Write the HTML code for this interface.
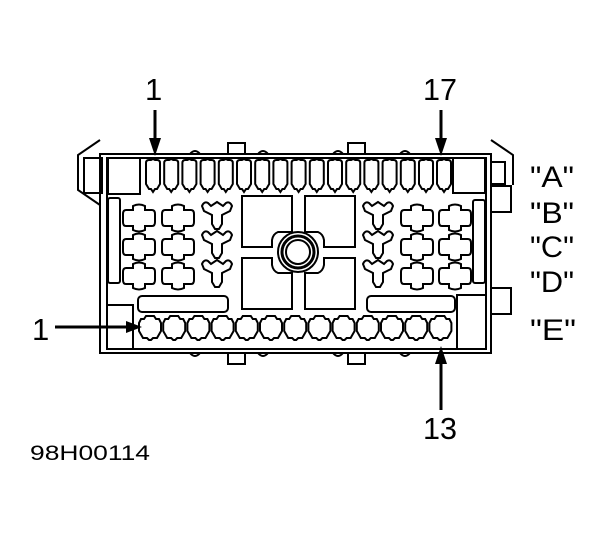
<!DOCTYPE html>
<html><head><style>
html,body{margin:0;padding:0;background:#fff;}
svg{display:block;}
text{font-family:"Liberation Sans",Arial,sans-serif;fill:#000;}
</style></head><body>
<svg width="614" height="534" viewBox="0 0 614 534" xmlns="http://www.w3.org/2000/svg">
<defs>
<path id="clo" d="M-6,-12 q6,-3 12,0 v4 h7 q3,0 3,4 v8 q0,4 -3,4 h-7 v4 q-6,3 -12,0 v-4 h-7 q-3,0 -3,-4 v-8 q0,-4 3,-4 h7 z" fill="none" stroke="#000" stroke-width="2"/>
<path id="tee" d="M-15,-9 q2,-5 6,-3 l3,3 l6,-4 l6,4 l3,-3 q4,-2 6,3 l-2,5 l-8,4 v9 l-3,5 h-4 l-3,-5 v-9 l-8,-4 z" fill="none" stroke="#000" stroke-width="2"/>
<path id="ca" d="M-7,-13 q0,-3 3,-3 h2 l2,-1 l2,1 h2 q3,0 3,3 v21 l-3,5 h-2 l-2,3 l-2,-3 h-2 l-3,-5 z" fill="none" stroke="#000" stroke-width="2"/>
<path id="ce" d="M-4,-12 h8 l2,3 h3 l2,4 v8 l-4,7 h-4 l-2,2 h-2 l-2,-2 h-4 l-4,-7 v-8 l2,-4 h3 z" fill="none" stroke="#000" stroke-width="2"/>
</defs>
<g fill="none" stroke="#000" stroke-width="2">
<path d="M228,154 v-11 h17 v11"/><path d="M348,154 v-11 h17 v11"/>
<path d="M190,154 q5,-6 10,0"/><path d="M258,154 q5,-6 10,0"/><path d="M333,154 q5,-6 10,0"/><path d="M400,154 q5,-6 10,0"/>
<path d="M228,353 v11 h17 v-11"/><path d="M348,353 v11 h17 v-11"/>
<path d="M190,353 q5,6 10,0"/><path d="M258,353 q5,6 10,0"/><path d="M333,353 q5,6 10,0"/><path d="M400,353 q5,6 10,0"/>
<rect x="100" y="154" width="391" height="199"/>
<path d="M107,158 H486 V349 H107 Z"/>
<path d="M100,140 L78,155 V190 L100,205"/>
<path d="M84,158 h18 v35 h-18 z"/>
<path d="M491,140 L513,155 V185"/>
<path d="M491,162 h14 v22 h-14"/>
<path d="M491,186 h20 v26 h-20"/>
<path d="M491,288 h20 v26 h-20"/>
<rect x="108" y="158" width="32" height="36"/>
<rect x="453" y="158" width="32" height="35"/>
<rect x="108" y="198" width="12" height="85" rx="2"/>
<rect x="473" y="200" width="12" height="83" rx="2"/>
<path d="M108,305 h25 v44"/>
<path d="M485,295 h-28 v54"/>
<rect x="138" y="296" width="90" height="16" rx="4"/>
<rect x="367" y="296" width="88" height="16" rx="4"/>
<path d="M242,196 h50 v36 h-14 q-5,2 -6,8 v7 h-30 z"/>
<path d="M305,196 h50 v51 h-31 v-7 q-1,-6 -6,-8 h-13 z"/>
<path d="M242,309 h50 v-36 h-14 q-5,-2 -6,-8 v-7 h-30 z"/>
<path d="M305,309 h50 v-51 h-31 v7 q-1,6 -6,8 h-13 z"/>
<circle cx="298" cy="252" r="20"/>
<circle cx="298" cy="252" r="16" stroke-width="3"/>
<circle cx="298" cy="252" r="12"/>
</g>
<g>
<use href="#clo" x="139" y="218"/><use href="#clo" x="178" y="218"/><use href="#tee" x="217" y="215"/>
<use href="#clo" x="139" y="247"/><use href="#clo" x="178" y="247"/><use href="#tee" x="217" y="244"/>
<use href="#clo" x="139" y="276"/><use href="#clo" x="178" y="276"/><use href="#tee" x="217" y="273"/>
<use href="#tee" x="378" y="215"/><use href="#clo" x="417" y="218"/><use href="#clo" x="455" y="218"/>
<use href="#tee" x="378" y="244"/><use href="#clo" x="417" y="247"/><use href="#clo" x="455" y="247"/>
<use href="#tee" x="378" y="273"/><use href="#clo" x="417" y="276"/><use href="#clo" x="455" y="276"/>
</g>
<g>
<use href="#ca" x="153" y="176"/><use href="#ca" x="171.2" y="176"/><use href="#ca" x="189.4" y="176"/><use href="#ca" x="207.6" y="176"/>
<use href="#ca" x="225.8" y="176"/><use href="#ca" x="244" y="176"/><use href="#ca" x="262.2" y="176"/><use href="#ca" x="280.4" y="176"/>
<use href="#ca" x="298.6" y="176"/><use href="#ca" x="316.8" y="176"/><use href="#ca" x="335" y="176"/><use href="#ca" x="353.2" y="176"/>
<use href="#ca" x="371.4" y="176"/><use href="#ca" x="389.6" y="176"/><use href="#ca" x="407.8" y="176"/><use href="#ca" x="426" y="176"/>
<use href="#ca" x="444" y="176"/>
</g>
<g>
<use href="#ce" x="150" y="328"/><use href="#ce" x="174.2" y="328"/><use href="#ce" x="198.4" y="328"/><use href="#ce" x="222.6" y="328"/>
<use href="#ce" x="246.8" y="328"/><use href="#ce" x="271" y="328"/><use href="#ce" x="295.2" y="328"/><use href="#ce" x="319.4" y="328"/>
<use href="#ce" x="343.6" y="328"/><use href="#ce" x="367.8" y="328"/><use href="#ce" x="392" y="328"/><use href="#ce" x="416.2" y="328"/>
<use href="#ce" x="440.4" y="328"/>
</g>
<g stroke="#000" stroke-width="3">
<line x1="155" y1="110" x2="155" y2="140"/>
<line x1="441" y1="110" x2="441" y2="140"/>
<line x1="55" y1="327" x2="128" y2="327"/>
<line x1="441" y1="410" x2="441" y2="362"/>
</g>
<g fill="#000">
<polygon points="149,138 161,138 155,156"/>
<polygon points="435,138 447,138 441,156"/>
<polygon points="126,321 126,333 142,327"/>
<polygon points="435,364 447,364 441,346"/>
</g>
<g font-size="31">
<text x="145" y="100">1</text>
<text x="423" y="100" textLength="34" lengthAdjust="spacingAndGlyphs">17</text>
<text x="32" y="340">1</text>
<text x="423" y="439" textLength="34" lengthAdjust="spacingAndGlyphs">13</text>
</g>
<g font-size="30">
<text x="530" y="187" textLength="44" lengthAdjust="spacingAndGlyphs">"A"</text>
<text x="530" y="223" textLength="44" lengthAdjust="spacingAndGlyphs">"B"</text>
<text x="530" y="257" textLength="44" lengthAdjust="spacingAndGlyphs">"C"</text>
<text x="530" y="292" textLength="44" lengthAdjust="spacingAndGlyphs">"D"</text>
<text x="530" y="340" textLength="46" lengthAdjust="spacingAndGlyphs">"E"</text>
</g>
<text x="30" y="460" font-size="21" textLength="120" lengthAdjust="spacingAndGlyphs">98H00114</text>
</svg>
</body></html>
